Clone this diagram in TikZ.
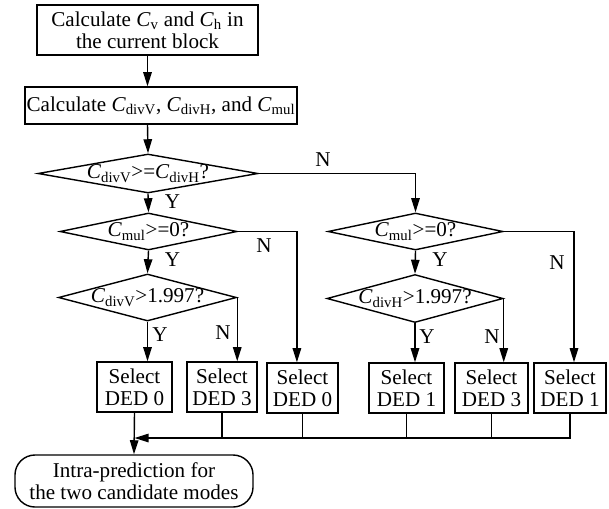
\documentclass[tikz,border=0pt]{standalone}
\usepackage{fontspec}
\setmainfont{Liberation Serif}
\usetikzlibrary{shapes.geometric,arrows.meta}
\newcommand{\Cv}[1]{\textit{C}\textsubscript{#1}}
\newcommand{\cond}[1]{\makebox[0pt]{#1}}

\begin{document}
\begin{tikzpicture}[x=0.025cm,y=-0.025cm]
\tikzset{every node/.style={align=center, inner sep=0pt, font=\fontsize{15}{15.5}\selectfont},
  box/.style={draw, line width=1pt, minimum height=1.25cm},
  decision/.style={draw, diamond, line width=1pt, aspect=4},
  flow/.style={line width=1pt, -{Triangle[length=10pt,width=6pt]}},
  link/.style={line width=1pt}}
\useasboundingbox (0,0) rectangle (609,508);

% top boxes
\node[box, minimum width=5.525cm] (calc1) at (147.5,30) {Calculate \Cv{v} and \Cv{h} in\\the current block};
\node[box, minimum width=6.8cm, minimum height=0.925cm] (calc2) at (161,105.5) {Calculate \Cv{divV}, \Cv{divH}, and \Cv{mul}};

% decisions
\node[decision, minimum width=5.5cm, minimum height=0.975cm] (dec1) at (148,173.5) {\cond{\Cv{divV}>=\Cv{divH}?}};
\node[decision, minimum width=4.425cm, minimum height=0.925cm] (dec2) at (148.5,231.5) {\cond{\Cv{mul}>=0?}};
\node[decision, minimum width=4.45cm, minimum height=1.175cm] (dec3) at (147.5,297.5) {\cond{\Cv{divV}>1.997?}};
\node[decision, minimum width=4.375cm, minimum height=0.925cm] (dec4) at (415.5,231.5) {\cond{\Cv{mul}>=0?}};
\node[decision, minimum width=4.4cm, minimum height=1.2cm] (dec5) at (415,298.5) {\cond{\Cv{divH}>1.997?}};

% select boxes
\node[box, minimum width=1.875cm] (sela) at (134.5,387) {Select\\DED 0};
\node[box, minimum width=1.75cm] (selb) at (222,387) {Select\\DED 3};
\node[box, minimum width=1.775cm] (selc) at (302.5,388) {Select\\DED 0};
\node[box, minimum width=1.875cm] (seld) at (406.5,388) {Select\\DED 1};
\node[box, minimum width=1.825cm] (sele) at (491.5,388) {Select\\DED 3};
\node[box, minimum width=1.8cm] (self) at (570,388) {Select\\DED 1};

% final step
\node[draw, line width=1pt, rounded corners=0.5cm, minimum width=5.95cm, minimum height=1.3cm] (intra) at (134,481) {Intra-prediction for\\the two candidate modes};

% labels
\node (y1) at (172.5,202) {Y};
\node (n1) at (323,160) {N};
\node (y2) at (172.5,260) {Y};
\node (n2) at (264,246) {N};
\node (y3) at (160,335) {Y};
\node (n3) at (223,333) {N};
\node (y4) at (440,260) {Y};
\node (n4) at (557,263) {N};
\node (y5) at (427,337) {Y};
\node (n5) at (492,337) {N};

% connectors
\draw[flow] (calc1.south) -- (calc1.south |- calc2.north);
\draw[flow] (calc1.south |- calc2.south) -- (dec1.north);
\draw[flow] (dec1.south) -- (dec2.north);
\draw[flow] (dec1.east) -| (dec4.north);
\draw[flow] (dec2.south) -- (dec3.north);
\draw[flow] (dec2.east) -| ([xshift=-0.14cm]selc.north);
\draw[flow] (dec3.south) -- (dec3.south |- sela.north);
\draw[flow] (dec3.east) -- (dec3.east |- selb.north);
\draw[flow] (dec4.south) -- (dec5.north);
\draw[flow] (dec4.east) -| ([xshift=0.1cm]self.north);
\draw[flow] (dec5.south) -- (dec5.south |- seld.north);
\draw[flow] (dec5.east) -- (dec5.east |- sele.north);

\coordinate (join) at (134.5,438);
\draw[flow] (self.south) |- (join);
\draw[link] (selb.south) -- (selb.south |- join);
\draw[link] (selc.south) -- (selc.south |- join);
\draw[link] (seld.south) -- (seld.south |- join);
\draw[link] (sele.south) -- (sele.south |- join);
\draw[flow] (sela.south) -- (intra.north);
\end{tikzpicture}
\end{document}
